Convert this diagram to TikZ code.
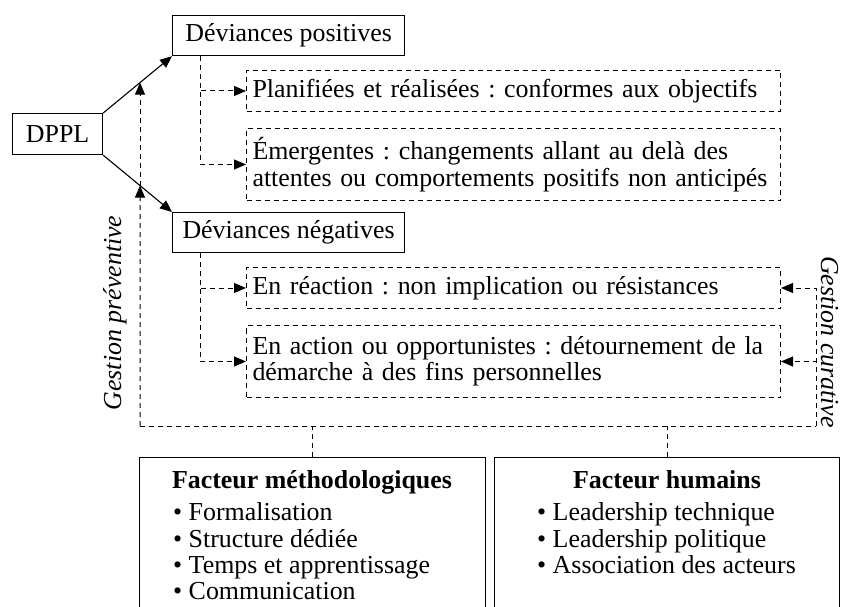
\documentclass[tikz,border=0pt]{standalone}
\usepackage{fontspec}
\setmainfont{Liberation Serif}
\usetikzlibrary{arrows.meta,calc}
\AtBeginDocument{\frenchspacing}
\begin{document}
\begin{tikzpicture}[x=1pt,y=-1pt,
  every node/.style={font=\fontsize{25.9}{26.5}\selectfont, inner sep=0pt},
  sbox/.style={draw, line width=1.2pt, minimum height=40pt, anchor=north west},
  dbox/.style={draw, line width=1pt, dash pattern=on 5pt off 4pt, anchor=north west,
     text width=522pt, inner xsep=6pt, align=left},
  dl/.style={line width=1pt, dash pattern=on 5pt off 4pt},
  tip/.style={-{Triangle[length=12pt,width=10pt]}},
  fbox/.style={draw, line width=1.2pt, anchor=north west, minimum height=200pt},
  ftitle/.style={anchor=base, font=\fontsize{25.9}{26.5}\selectfont\bfseries},
  fitem/.style={anchor=base west}]
\useasboundingbox (0,0) rectangle (841,607);
\clip (0,0) rectangle (841,607);

% main nodes
\node[sbox, minimum width=90pt, minimum height=41pt] (dppl) at (12,113) {DPPL};
\node[sbox, minimum width=232pt] (dpos) at (172,15) {Déviances positives};
\node[sbox, minimum width=232pt] (dneg) at (172,212) {Déviances négatives};

\node[dbox, minimum height=41pt] (plan) at (246,70) {Planifiées et réalisées : conformes aux objectifs};
\node[dbox, minimum height=72pt] (emerg) at (246,128) {Émergentes : changements allant au delà des\\attentes ou comportements positifs non anticipés};
\node[dbox, minimum height=41pt] (reac) at (246,267) {En réaction : non implication ou résistances};
\node[dbox, minimum height=72pt] (act) at (246,325) {En action ou opportunistes : détournement de la\\démarche à des fins personnelles};

% solid arrows
\draw[line width=1.1pt, tip] (dppl.north east) -- (dpos.south west);
\draw[line width=1.1pt, tip] (dppl.south east) -- (dneg.north west);

% dashed branches
\draw[dl, tip] ([xshift=28pt]dpos.south west) |- (plan.west);
\draw[dl, tip] ([xshift=28pt]dpos.south west) |- (emerg.west);
\draw[dl, tip] ([xshift=28pt]dneg.south west) |- (reac.west);
\draw[dl, tip] ([xshift=28pt]dneg.south west) |- (act.west);

% management loop
\coordinate (bl) at (140,426);
\coordinate (br) at (816,426);
\coordinate (tl) at (140,0);
\coordinate (mp) at (intersection of dppl.north east--dpos.south west and bl--tl);
\coordinate (mn) at (intersection of dppl.south east--dneg.north west and bl--tl);
\draw[dl] (bl) -- (br);
\draw[dl, tip] (bl) -- (mn);
\draw[dl, tip] (mn) -- (mp);
\draw[dl, tip] (br) |- (reac.east);
\draw[dl, tip] (br) |- (act.east);

\node[rotate=90, anchor=base, font=\fontsize{25.9}{26.5}\selectfont\itshape] (gp) at (121,313) {Gestion préventive};
\node[rotate=-90, anchor=base, font=\fontsize{25.9}{26.5}\selectfont\itshape] (gc) at (821,342) {Gestion curative};

% factor boxes
\node[fbox, minimum width=346pt] (meth) at (139,457) {};
\node[fbox, minimum width=345pt] (hum) at (494,457) {};
\draw[dl] (meth.north) -- (meth.north |- bl);
\draw[dl] (hum.north) -- (hum.north |- bl);

\node[ftitle] (mt) at (312,488) {Facteur méthodologiques};
\node[fitem] (m1) at (173,520) {• Formalisation};
\node[fitem] (m2) at (173,547) {• Structure dédiée};
\node[fitem] (m3) at (173,573) {• Temps et apprentissage};
\node[fitem] (m4) at (173,599) {• Communication};

\node[ftitle] (ht) at (667,488) {Facteur humains};
\node[fitem] (h1) at (537,520) {• Leadership technique};
\node[fitem] (h2) at (537,547) {• Leadership politique};
\node[fitem] (h3) at (537,573) {• Association des acteurs};
\end{tikzpicture}
\end{document}
